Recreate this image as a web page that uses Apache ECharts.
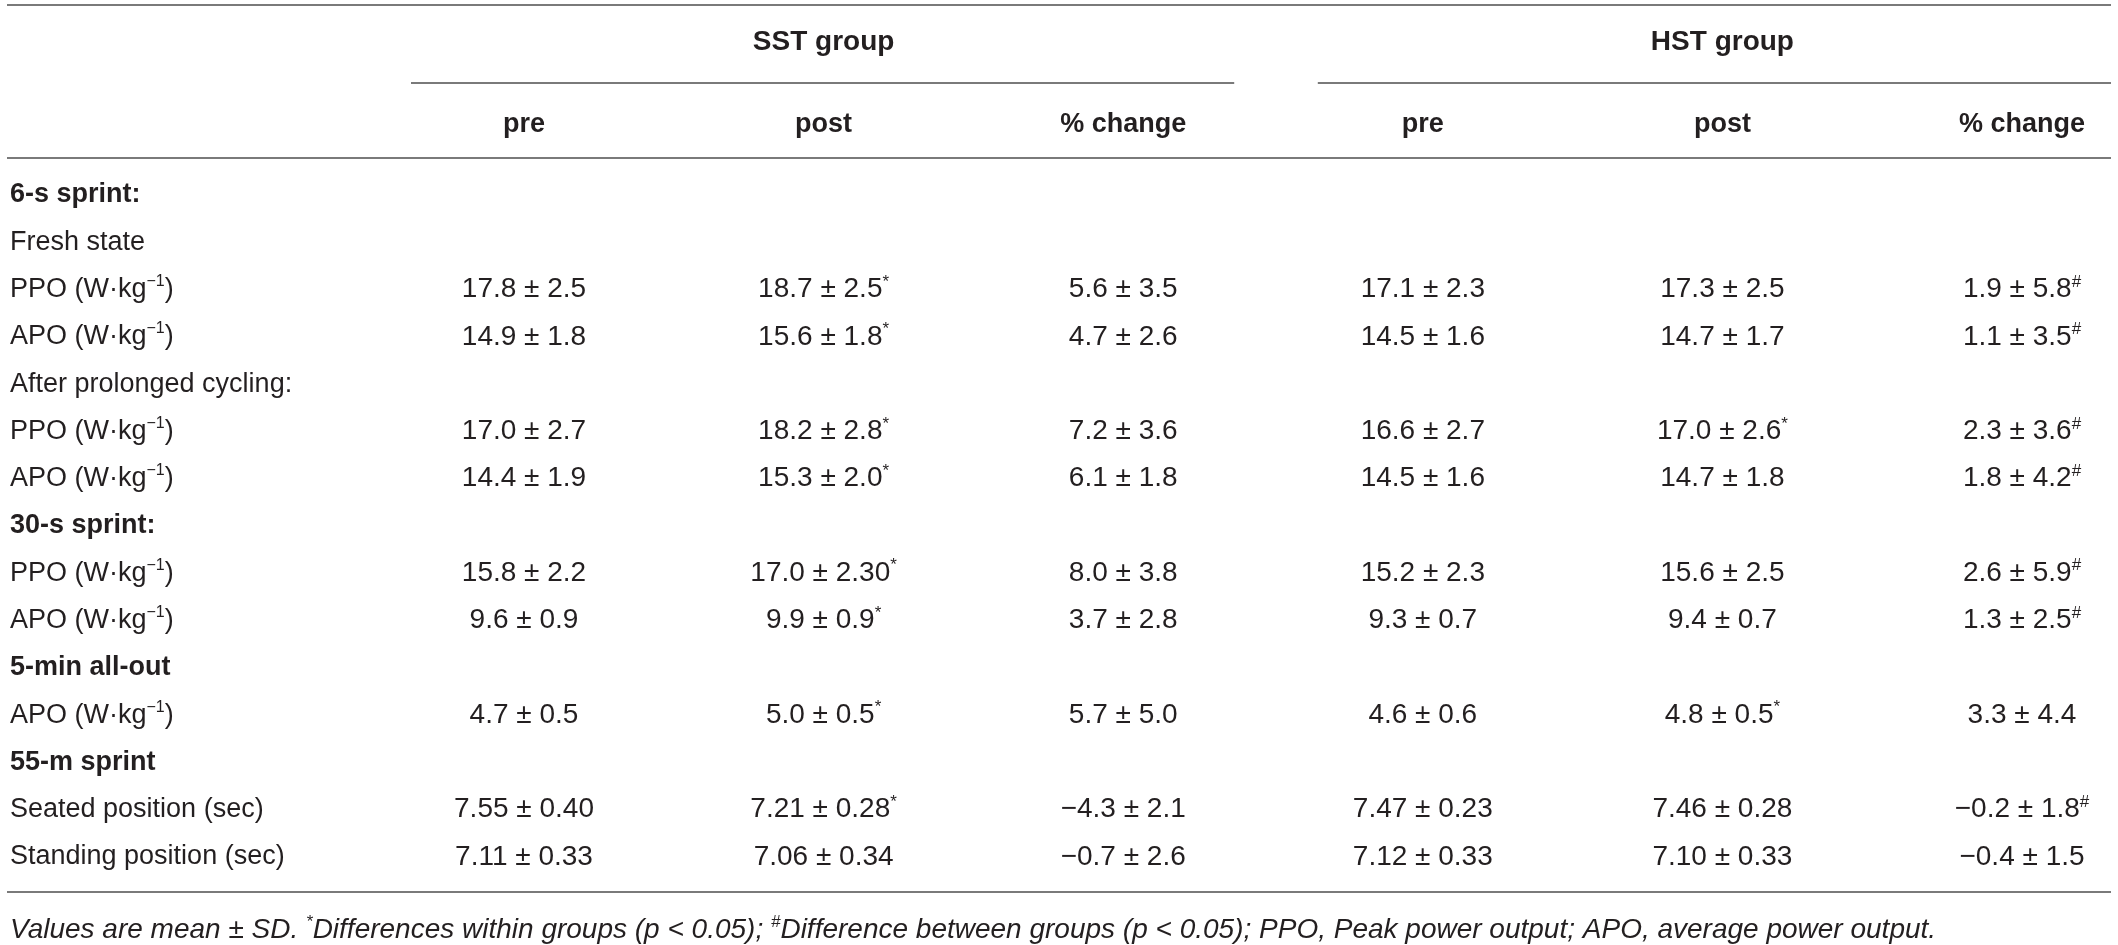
<!DOCTYPE html>
<html>
<head>
<meta charset="utf-8">
<script src="https://cdn.jsdelivr.net/npm/echarts@6/dist/echarts.min.js"></script>
<style>
  html, body { margin: 0; padding: 0; background: #fff; }
  #main { width: 2118px; height: 945px; }
</style>
</head>
<body>
<div id="main"></div>
<script>
// table content
var columns = ['pre', 'post', '% change', 'pre', 'post', '% change'];
var groups = ['SST group', 'HST group'];
var rowLabels = ['6-s sprint:', 'Fresh state', 'PPO (W·kg−1)', 'APO (W·kg−1)', 'After prolonged cycling:',
    'PPO (W·kg−1)', 'APO (W·kg−1)', '30-s sprint:', 'PPO (W·kg−1)', 'APO (W·kg−1)', '5-min all-out',
    'APO (W·kg−1)', '55-m sprint', 'Seated position (sec)', 'Standing position (sec)'];
var sectionRows = ['6-s sprint:', '30-s sprint:', '5-min all-out', '55-m sprint'];
var sstPre = ['', '', '17.8 ± 2.5', '14.9 ± 1.8', '', '17.0 ± 2.7', '14.4 ± 1.9', '', '15.8 ± 2.2', '9.6 ± 0.9', '', '4.7 ± 0.5', '', '7.55 ± 0.40', '7.11 ± 0.33'];
var sstPost = ['', '', '18.7 ± 2.5*', '15.6 ± 1.8*', '', '18.2 ± 2.8*', '15.3 ± 2.0*', '', '17.0 ± 2.30*', '9.9 ± 0.9*', '', '5.0 ± 0.5*', '', '7.21 ± 0.28*', '7.06 ± 0.34'];
var sstChange = ['', '', '5.6 ± 3.5', '4.7 ± 2.6', '', '7.2 ± 3.6', '6.1 ± 1.8', '', '8.0 ± 3.8', '3.7 ± 2.8', '', '5.7 ± 5.0', '', '−4.3 ± 2.1', '−0.7 ± 2.6'];
var hstPre = ['', '', '17.1 ± 2.3', '14.5 ± 1.6', '', '16.6 ± 2.7', '14.5 ± 1.6', '', '15.2 ± 2.3', '9.3 ± 0.7', '', '4.6 ± 0.6', '', '7.47 ± 0.23', '7.12 ± 0.33'];
var hstPost = ['', '', '17.3 ± 2.5', '14.7 ± 1.7', '', '17.0 ± 2.6*', '14.7 ± 1.8', '', '15.6 ± 2.5', '9.4 ± 0.7', '', '4.8 ± 0.5*', '', '7.46 ± 0.28', '7.10 ± 0.33'];
var hstChange = ['', '', '1.9 ± 5.8#', '1.1 ± 3.5#', '', '2.3 ± 3.6#', '1.8 ± 4.2#', '', '2.6 ± 5.9#', '1.3 ± 2.5#', '', '3.3 ± 4.4', '', '−0.2 ± 1.8#', '−0.4 ± 1.5'];
var footnote = 'Values are mean ± SD. *Differences within groups (p < 0.05); #Difference between groups (p < 0.05); PPO, Peak power output; APO, average power output.';

var FONT = '"Liberation Sans", Arial, sans-serif';
var INK = '#231f20';
var RULE = '#7a7a7a';

// turn * and # into superscripts, and kg−1 into kg with a raised −1
function withSup(text, base) {
    return '{' + base + '|' + text.replace(/([*#])/g, '}{s|$1}{' + base + '|') + '}';
}
function rowLabel(text) {
    if (sectionRows.indexOf(text) >= 0) return '{b|' + text + '}';
    return '{n|' + text.replace('kg−1', 'kg}{s|−1}{n|') + '}';
}

var valueCols = [sstPre, sstPost, sstChange, hstPre, hstPost, hstChange];
var cells = [];
var cellText = [];
valueCols.forEach(function (col, c) {
    col.forEach(function (v, r) {
        if (v) {
            cells.push([c, r]);
            cellText.push(withSup(v, 'v'));
        }
    });
});

var dom = document.getElementById('main');
var myChart = echarts.init(dom, null, { renderer: 'canvas' });

var option = {
    backgroundColor: '#fff',
    animation: false,
    grid: { left: 524, right: 96, top: 195, bottom: 88 },
    xAxis: {
        type: 'category',
        position: 'top',
        boundaryGap: false,
        data: columns,
        axisLine: { show: false },
        axisTick: { show: false },
        splitLine: { show: false },
        axisLabel: {
            interval: 0,
            margin: 70,
            verticalAlign: 'middle',
            color: INK,
            fontFamily: FONT,
            fontWeight: 'bold',
            fontSize: 27
        }
    },
    yAxis: {
        type: 'category',
        inverse: true,
        boundaryGap: false,
        data: rowLabels,
        axisLine: { show: false },
        axisTick: { show: false },
        splitLine: { show: false },
        axisLabel: {
            interval: 0,
            align: 'left',
            margin: 514,
            formatter: rowLabel,
            rich: {
                n: { color: INK, fontFamily: FONT, fontSize: 27, lineHeight: 32 },
                b: { color: INK, fontFamily: FONT, fontSize: 27, fontWeight: 'bold', lineHeight: 32 },
                s: { color: INK, fontFamily: FONT, fontSize: 16, lineHeight: 32, verticalAlign: 'top' }
            }
        }
    },
    series: [
        {
            type: 'custom',
            coordinateSystem: 'cartesian2d',
            encode: { x: 0, y: 1 },
            data: cells,
            renderItem: function (params, api) {
                var p = api.coord([api.value(0), api.value(1)]);
                return {
                    type: 'text',
                    style: {
                        x: p[0],
                        y: p[1],
                        text: cellText[params.dataIndex],
                        align: 'center',
                        verticalAlign: 'middle',
                        rich: {
                            v: { fill: INK, fontFamily: FONT, fontSize: 28, lineHeight: 32 },
                            s: { fill: INK, fontFamily: FONT, fontSize: 17, lineHeight: 32, verticalAlign: 'top' }
                        }
                    }
                };
            }
        }
    ]
};

myChart.setOption(option);

// rules, group titles and footnote placed from the column scale
var colX = columns.map(function (c, i) {
    return myChart.convertToPixel({ xAxisIndex: 0 }, i);
});
var W = 2118;
function rule(x1, x2, y) {
    return { type: 'line', shape: { x1: x1, y1: y, x2: x2, y2: y }, style: { stroke: RULE, lineWidth: 2 } };
}
function groupTitle(text, x) {
    return {
        type: 'text',
        style: { x: x, y: 42, text: text, align: 'center', verticalAlign: 'middle', fill: INK, font: 'bold 28px ' + FONT }
    };
}
myChart.setOption({
    graphic: [
        rule(7, W - 7, 5),
        rule(colX[0] - 113, colX[2] + 111, 83),
        rule(colX[3] - 105, W - 7, 83),
        rule(7, W - 7, 158),
        rule(7, W - 7, 892),
        groupTitle(groups[0], colX[1]),
        groupTitle(groups[1], colX[4]),
        {
            type: 'text',
            style: {
                x: 10,
                y: 930,
                text: withSup(footnote, 'i'),
                align: 'left',
                verticalAlign: 'middle',
                rich: {
                    i: { fill: INK, fontFamily: FONT, fontStyle: 'italic', fontSize: 28, lineHeight: 32 },
                    s: { fill: INK, fontFamily: FONT, fontStyle: 'italic', fontSize: 17, lineHeight: 32, verticalAlign: 'top' }
                }
            }
        }
    ]
});

window.addEventListener('resize', myChart.resize);
</script>
</body>
</html>
